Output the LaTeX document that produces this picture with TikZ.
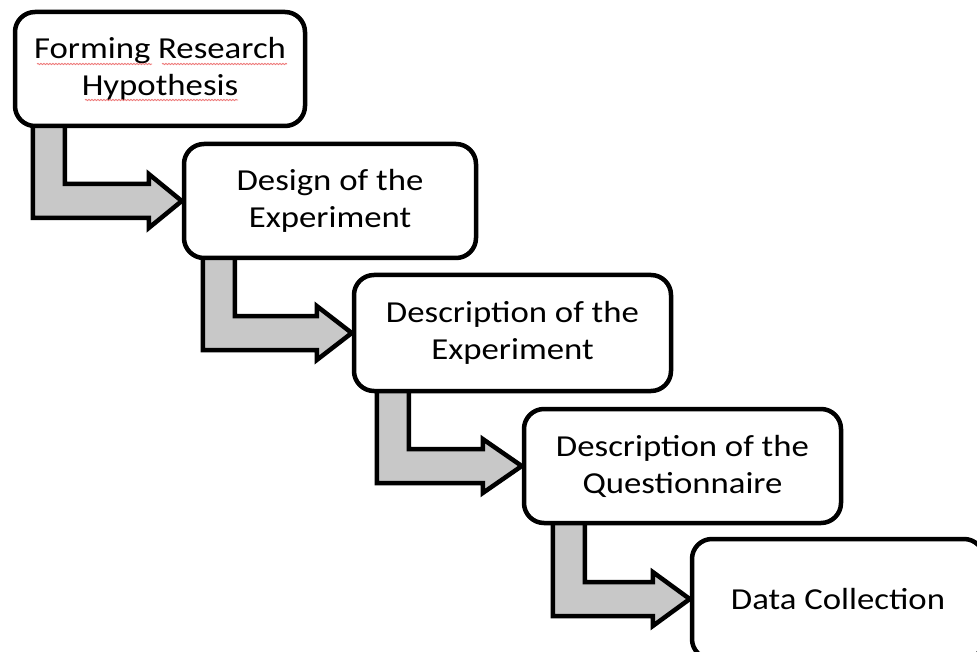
\documentclass[tikz,border=0pt]{standalone}
\usepackage{fontspec}
\setmainfont[FakeStretch=1.14]{Carlito}
\usetikzlibrary{calc,decorations.pathmorphing}
\pgfdeclarelayer{bg}
\pgfsetlayers{bg,main}
\definecolor{arrowgray}{RGB}{200,200,200}
\definecolor{spellred}{RGB}{238,120,120}
\newcommand\flowarrow[4]{%
  \draw[flow] ($(#1.south west)+(#3,-6)$) -- ($(#1.south west)+(#3+32,-6)$)
     |- ($(#2.west)+(-#4,-17)$) -- ($(#2.west)+(-#4,-27)$) -- (#2.west)
     -- ($(#2.west)+(-#4,27)$) -- ($(#2.west)+(-#4,17)$)
     -| ($(#1.south west)+(#3,-6)$) -- cycle;}
\begin{document}
\begin{tikzpicture}[x=1pt,y=-1pt,
  box/.style={draw, line width=4.5pt, rounded corners=20pt, fill=white,
    align=center, inner sep=0pt, font=\fontsize{30.5}{37}\selectfont},
  flow/.style={draw, line width=4.5pt, fill=arrowgray, line join=miter},
  spell/.style={draw=spellred, line width=0.9pt, decorate,
    decoration={snake, amplitude=0.6pt, segment length=3pt}}]
\useasboundingbox (0,0) rectangle (977,652);
\clip (0,0) rectangle (977,652);

\node[box, minimum width=290pt, minimum height=114pt] (b1) at (160,69) {Forming Research\\Hypothesis};
\node[box, minimum width=292pt, minimum height=114pt] (b2) at (330,201) {Design of the\\Experiment};
\node[box, minimum width=317pt, minimum height=116pt] (b3) at (512.5,333) {Description of the\\Experiment};
\node[box, minimum width=317pt, minimum height=114pt] (b4) at (682.5,466) {Description of the\\Questionnaire};
\node[box, minimum width=292pt, minimum height=120pt] (b5) at (838,599) {Data Collection};

\begin{pgfonlayer}{bg}
  \flowarrow{b1}{b2}{20}{33}
  \flowarrow{b2}{b3}{21}{35}
  \flowarrow{b3}{b4}{25}{39}
  \flowarrow{b4}{b5}{31}{37}
\end{pgfonlayer}

\draw[spell] (37,64) -- (152,64);
\draw[spell] (162,64) -- (287,64);
\draw[spell] (85,100) -- (238,100);
\end{tikzpicture}
\end{document}
